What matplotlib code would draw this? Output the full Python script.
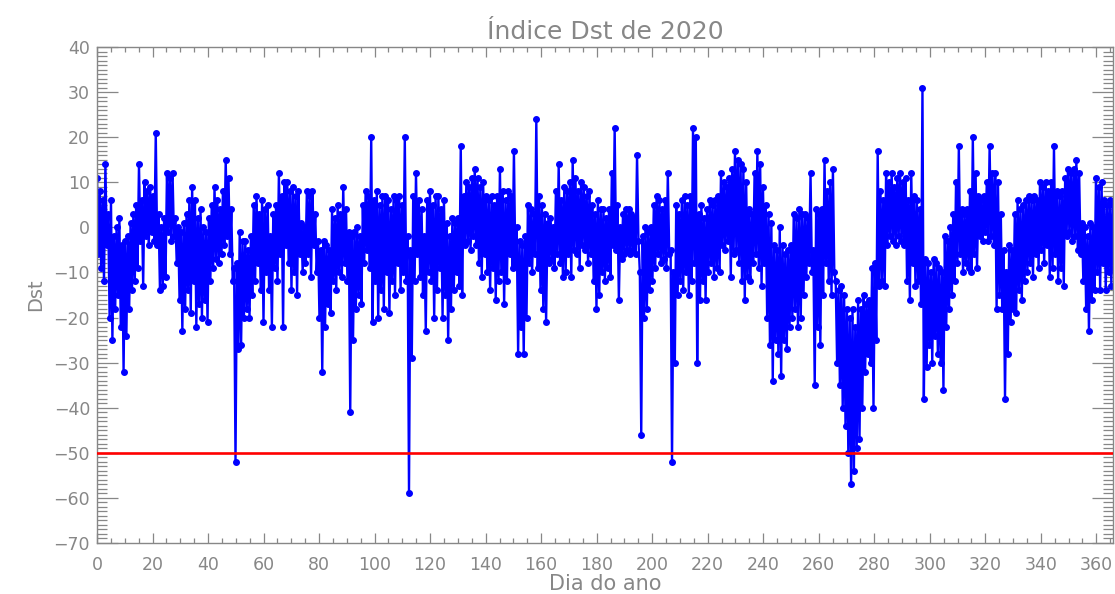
import numpy as np
import matplotlib
matplotlib.use("Agg")
import matplotlib.pyplot as plt
from matplotlib.ticker import MultipleLocator

# Dst (nT), two readings per day, from the start of 2020
dst = [
    11, -6, 8, -9, 6, -12, 14, -4, 3, -20, 6, -25, -2, -18, 0, -15, 2, -22, -4, -32,
    -3, -24, -2, -18, 1, -14, 3, -12, 5, -9, 14, -3, 6, -13, 10, -2, 8, -4, 9, -1,
    7, -3, 21, -4, 3, -14, 0, -13, 2, -11, 12, -1, 11, -3, 12, -2, 2, -8, 0, -16,
    -1, -23, 1, -18, 3, -14, 6, -19, 9, -12, 6, -22, 2, -17, 4, -20, 0, -16, -1, -21,
    2, -12, 5, -9, 9, -7, 6, -8, 4, -6, 8, -4, 15, -2, 11, -6, 4, -12, -9, -52,
    -8, -27, -1, -26, -3, -20, -3, -18, -5, -20, -2, -15, 5, -12, 7, -8, 3, -14, 6, -21,
    4, -10, 5, -14, -2, -22, 3, -9, 5, -12, 12, -6, 7, -22, 10, -4, 10, -8, 8, -14,
    9, -10, 7, -15, 8, -6, 1, -10, 0, -8, 8, -6, 7, -11, 8, -4, 3, -10, -3, -20,
    -5, -32, -3, -22, -4, -17, -5, -19, 4, -12, 2, -14, 5, -10, 3, -11, 9, -8, 4, -12,
    -1, -41, -2, -25, -1, -18, 0, -15, -2, -17, 5, -8, 8, -5, 7, -9, 20, -21, 6, -12,
    8, -20, 5, -14, 7, -18, 7, -10, 6, -19, 4, -12, 7, -15, 6, -8, 7, -14, 5, -10,
    20, -12, -2, -59, -5, -29, 7, -12, 12, -6, 6, -11, 4, -15, -2, -23, 6, -10, 8, -12,
    5, -20, 7, -14, 7, -9, 4, -20, 6, -15, 1, -25, -2, -18, 2, -14, 1, -10, 2, -13,
    18, -15, 7, -4, 10, -3, 9, -5, 11, -2, 13, -4, 11, -8, 9, -11, 10, -6, 7, -10,
    6, -14, 7, -9, 5, -16, 7, -12, 13, -10, 8, -17, 6, -12, 8, -6, 7, -9, 17, -8,
    0, -28, -3, -22, -4, -28, -2, -20, 5, -8, 4, -10, 3, -6, 24, -9, 7, -14, 5, -18,
    3, -21, 1, -8, 2, -7, 0, -9, 8, -6, 14, -8, 6, -11, 9, -10, 8, -6, 10, -11,
    15, -5, 11, -6, 8, -9, 10, -4, 9, -5, 7, -8, 8, -6, 5, -12, 3, -18, 6, -15,
    4, -10, 4, -12, 2, -9, 4, -11, 12, -4, 22, -5, 5, -16, 0, -7, 3, -6, 4, -5,
    4, -6, 3, -5, 2, -6, 16, -3, -10, -46, -2, -20, 0, -18, -1, -14, 0, -12, 5, -9,
    7, -6, 6, -8, 4, -7, 6, -9, 12, -6, -5, -52, -10, -30, 5, -15, 3, -12, 6, -14,
    7, -10, 5, -15, 7, -12, 22, -8, 20, -30, 3, -16, 5, -12, 2, -16, 4, -10, 6, -8,
    5, -11, 6, -9, 7, -10, 12, -4, 10, -5, 9, -3, 11, -11, 13, -6, 17, -5, 15, -8,
    14, -12, 13, -16, 10, -11, 4, -12, 3, -8, 12, -6, 17, -9, 14, -13, 9, -8, 5, -20,
    3, -26, 1, -34, -4, -25, -5, -28, 0, -33, -4, -25, -6, -27, -5, -22, -4, -20, 3, -18,
    2, -22, 4, -20, 3, -15, 3, -11, 2, -8, 12, -10, -5, -35, 4, -22, 3, -26, 4, -15,
    15, -8, 8, -12, 10, -15, 13, -10, -12, -30, -14, -35, -13, -40, -15, -44, -18, -50, -20, -57,
    -18, -54, -22, -49, -16, -47, -18, -40, -15, -32, -17, -28, -16, -30, -9, -40, -8, -25, 17, -13,
    8, -12, 6, -13, 12, -4, 10, -2, 12, -3, 9, -4, 11, -2, 12, -3, 10, -4, 11, -12,
    6, -16, 12, -8, 7, -13, 6, -12, 4, -17, 31, -38, -7, -31, -8, -26, -10, -30, -7, -24,
    -8, -28, -9, -30, -10, -36, -2, -22, -3, -18, 0, -15, 3, -12, 10, -8, 18, -6, 4, -10,
    3, -8, 4, -9, 8, -10, 20, -6, 12, -9, 7, -2, 6, -3, 7, -1, 10, -3, 18, -2,
    12, -4, 12, -18, 10, -15, 3, -18, -5, -38, -10, -28, -4, -21, -5, -18, 3, -19, 6, -14,
    4, -16, 5, -12, 6, -10, 7, -8, 6, -11, 7, -6, 6, -9, 10, -5, 9, -8, 10, -4,
    8, -11, 10, -9, 18, -6, 8, -12, 7, -9, 8, -13, 11, -2, 13, -1, 12, -3, 13, -2,
    15, -5, 12, -6, 1, -12, 0, -18, -2, -23, 1, -16, 0, -14, 11, -10, 9, -14, 10, -8,
    6, -14, 5, -10, 6, -13, 5, -9, 4, -12, 5, -8,
]
passo = 0.504  # dias entre leituras
dias = np.arange(len(dst)) * passo
limiar = -50

cinza = "#878787"
plt.rcParams["font.family"] = ["DejaVu Sans"]

fig = plt.figure(figsize=(11.15, 5.94), dpi=100)
ax = fig.add_axes([97 / 1115, 1 - 543 / 594, (1113 - 97) / 1115, (543 - 47) / 594])

ax.plot(dias, dst, color="#0000ff", lw=1.7, marker="o", ms=4.0, mec="#0000ff", mfc="#0000ff", zorder=2)
ax.axhline(limiar, color="#ff0000", lw=1.9, zorder=3)

ax.set_xlim(0, 366)
ax.set_ylim(-70, 40)
ax.xaxis.set_major_locator(MultipleLocator(20))
ax.xaxis.set_minor_locator(MultipleLocator(5))
ax.yaxis.set_major_locator(MultipleLocator(10))
ax.yaxis.set_minor_locator(MultipleLocator(1))

for s in ax.spines.values():
    s.set_color(cinza)
    s.set_linewidth(1.0)
ax.tick_params(which="both", direction="in", top=True, right=True, color=cinza, width=0.9,
               labelcolor=cinza, labelsize=12.5)
ax.tick_params(axis="x", which="major", length=7.2, pad=9)
ax.tick_params(axis="x", which="minor", length=3.6)
ax.tick_params(axis="y", which="major", length=15, pad=5)
ax.tick_params(axis="y", which="minor", length=7.5)

ax.set_title("Índice Dst de 2020", color=cinza, fontsize=18, pad=6)
ax.set_xlabel("Dia do ano", color=cinza, fontsize=15, labelpad=0)
ax.set_ylabel("Dst", color=cinza, fontsize=14, labelpad=6)

fig.savefig("out.png", dpi=100)
